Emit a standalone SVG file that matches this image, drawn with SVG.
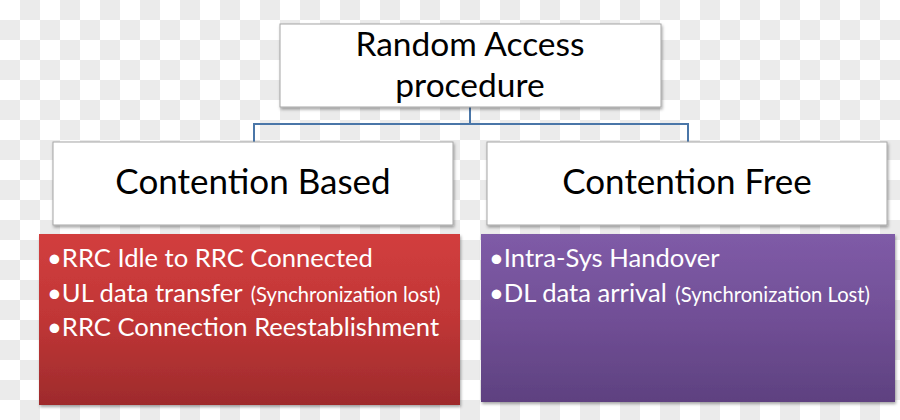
<svg xmlns="http://www.w3.org/2000/svg" width="900" height="420" viewBox="0 0 900 420">
<defs>
<pattern id="checker" x="0" y="0" width="40" height="40" patternUnits="userSpaceOnUse">
<rect width="40" height="40" fill="#ffffff"/>
<rect x="20" y="0" width="20" height="20" fill="#ebebeb"/>
<rect x="0" y="20" width="20" height="20" fill="#ebebeb"/>
</pattern>
<linearGradient id="redGrad" x1="0" y1="0" x2="0" y2="1">
<stop offset="0" stop-color="#d23e3e"/>
<stop offset="0.5" stop-color="#c03636"/>
<stop offset="1" stop-color="#9e2b2c"/>
</linearGradient>
<linearGradient id="purpleGrad" x1="0" y1="0" x2="0" y2="1">
<stop offset="0" stop-color="#7f5ba7"/>
<stop offset="0.5" stop-color="#714f96"/>
<stop offset="1" stop-color="#5e4180"/>
</linearGradient>
<filter id="shadow" x="-5%" y="-10%" width="110%" height="125%">
<feDropShadow dx="1" dy="2" stdDeviation="1.5" flood-color="#000" flood-opacity="0.35"/>
</filter>
</defs>
<style>
.box{fill:#ffffff;stroke:#a6a6a6;stroke-width:1;filter:url(#shadow)}
.head{font-family:Lato,"Open Sans","Liberation Sans",sans-serif;fill:#000;text-anchor:middle}
.body{font-family:Lato,"Open Sans","Liberation Sans",sans-serif;fill:#ffffff;font-size:25.6px}
.small{font-size:20.2px}
.conn{fill:none;stroke:#4a76a8;stroke-width:2}
</style>
<rect width="900" height="420" fill="url(#checker)"/>
<g id="connectors">
<path class="conn" d="M470,107 V124 M254,124 H688 M254,123 V142 M688,123 V142"/>
</g>
<g id="root">
<rect class="box" x="280" y="24" width="381" height="83"/>
<text class="head" x="470" y="56" font-size="33.5">Random Access</text>
<text class="head" x="470" y="97" font-size="33.5">procedure</text>
</g>
<g id="contention-based">
<rect class="box" x="53" y="142" width="400" height="83"/>
<text class="head" x="253" y="194" font-size="35">Contention Based</text>
</g>
<g id="contention-free">
<rect class="box" x="487" y="142" width="400" height="83"/>
<text class="head" x="687" y="194" font-size="35">Contention Free</text>
</g>
<g id="cb-list">
<rect x="39" y="234" width="421" height="171" fill="url(#redGrad)" filter="url(#shadow)"/>
<text class="body" x="47" y="267">•RRC Idle to RRC Connected</text>
<text class="body" x="47" y="302">•UL data transfer <tspan class="small" dx="2">(Synchronization lost)</tspan></text>
<text class="body" x="47" y="336">•RRC Connection Reestablishment</text>
</g>
<g id="cf-list">
<rect x="481" y="234" width="414" height="168" fill="url(#purpleGrad)" filter="url(#shadow)"/>
<text class="body" x="489" y="267">•Intra-Sys Handover</text>
<text class="body" x="489" y="302">•DL data arrival <tspan class="small" dx="2">(Synchronization Lost)</tspan></text>
</g>
</svg>
